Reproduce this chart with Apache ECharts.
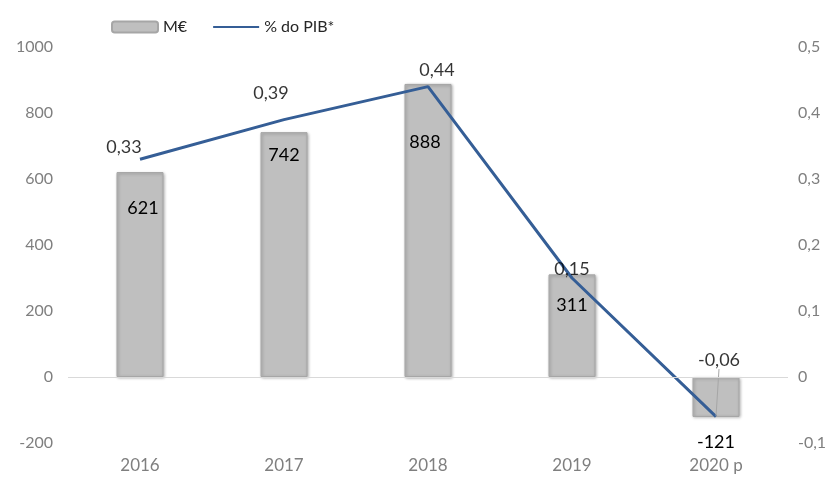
<!DOCTYPE html>
<html>
<head>
<meta charset="utf-8">
<script src="https://cdn.jsdelivr.net/npm/echarts@6/dist/echarts.min.js"></script>
<style>
  body { margin: 0; background: #fff; }
  #main { width: 835px; height: 480px; }
</style>
</head>
<body>
<div id="main"></div>
<script>
const years = ['2016', '2017', '2018', '2019', '2020 p'];
const meur = [621, 742, 888, 311, -121];
const pctPib = [0.33, 0.39, 0.44, 0.15, -0.06];
const leftTicks = [-200, 0, 200, 400, 600, 800, 1000];
const rightTicks = [-0.1, 0, 0.1, 0.2, 0.3, 0.4, 0.5];

// label nudges to keep them clear of the line (like the original)
const barLabelOffset = [[3, 22], [0, 9], [-3, 44], [0, 17], [0, 0]];
const lineLabelShift = [[-16, 3], [-13, -11], [9, -1], [0, 7], [3, -41]];

const fmt = v => String(v).replace('.', ',');
const font = 'Lato, "Open Sans", sans-serif';

const chartDom = document.getElementById('main');
const myChart = echarts.init(chartDom);

const option = {
  animation: false,
  textStyle: { fontFamily: font },
  legend: {
    top: 14,
    left: 106,
    itemWidth: 46,
    itemHeight: 11,
    itemGap: 25,
    textStyle: { fontSize: 16, color: '#262626', fontFamily: font },
    data: ['M€', { name: '% do PIB*', itemStyle: { opacity: 0 } }]
  },
  grid: { left: 68, right: 47, top: 47, bottom: 37, outerBoundsMode: 'none' },
  xAxis: {
    type: 'category',
    data: years,
    axisLine: { show: false },
    axisTick: { show: false },
    axisLabel: { fontSize: 17, color: '#7f7f7f', margin: 14 }
  },
  yAxis: [
    {
      type: 'value',
      min: leftTicks[0],
      max: leftTicks[leftTicks.length - 1],
      interval: 200,
      splitLine: { show: false },
      axisLabel: { fontSize: 16, color: '#7f7f7f', margin: 15, formatter: v => String(v) }
    },
    {
      type: 'value',
      min: rightTicks[0],
      max: rightTicks[rightTicks.length - 1],
      interval: 0.1,
      splitLine: { show: false },
      axisLabel: { fontSize: 16, color: '#7f7f7f', margin: 10, formatter: v => fmt(Math.round(v * 10) / 10) }
    }
  ],
  series: [
    {
      name: 'M€',
      type: 'bar',
      barWidth: 47,
      itemStyle: {
        color: '#bfbfbf',
        borderColor: '#a6a6a6',
        borderWidth: 1,
        shadowBlur: 3,
        shadowColor: 'rgba(0,0,0,0.3)',
        shadowOffsetX: 1,
        shadowOffsetY: 1
      },
      data: meur.map((v, i) => ({
        value: v,
        label: {
          show: true,
          position: v < 0 ? 'bottom' : 'insideTop',
          distance: v < 0 ? 16 : 5,
          offset: barLabelOffset[i],
          fontSize: 18,
          color: '#000',
          textBorderWidth: 0,
          textShadowBlur: 0,
          textShadowColor: 'transparent',
          textShadowOffsetX: 0,
          textShadowOffsetY: 0
        }
      })),
      markLine: {
        silent: true,
        symbol: 'none',
        label: { show: false },
        lineStyle: { color: '#d9d9d9', width: 1, type: 'solid' },
        data: [{ yAxis: 0 }]
      }
    },
    {
      name: '% do PIB*',
      type: 'line',
      yAxisIndex: 1,
      symbol: 'none',
      z: 3,
      lineStyle: { color: '#355e96', width: 3 },
      itemStyle: { color: '#355e96' },
      data: pctPib
    },
    {
      // carries the line's data labels
      name: 'pct-labels',
      type: 'scatter',
      yAxisIndex: 1,
      symbolSize: 1,
      z: 4,
      itemStyle: { color: 'rgba(0,0,0,0)' },
      label: {
        show: true,
        position: 'top',
        distance: 6,
        fontSize: 18,
        color: '#000',
        formatter: p => fmt(p.value)
      },
      labelLayout: p => ({ dx: lineLabelShift[p.dataIndex][0], dy: lineLabelShift[p.dataIndex][1] }),
      data: pctPib.map((v, i) => ({
        value: v,
        labelLine: i === 4
          ? { show: true, length2: 0, lineStyle: { color: '#a6a6a6', width: 1 } }
          : { show: false }
      }))
    }
  ]
};

option && myChart.setOption(option);
</script>
</body>
</html>
